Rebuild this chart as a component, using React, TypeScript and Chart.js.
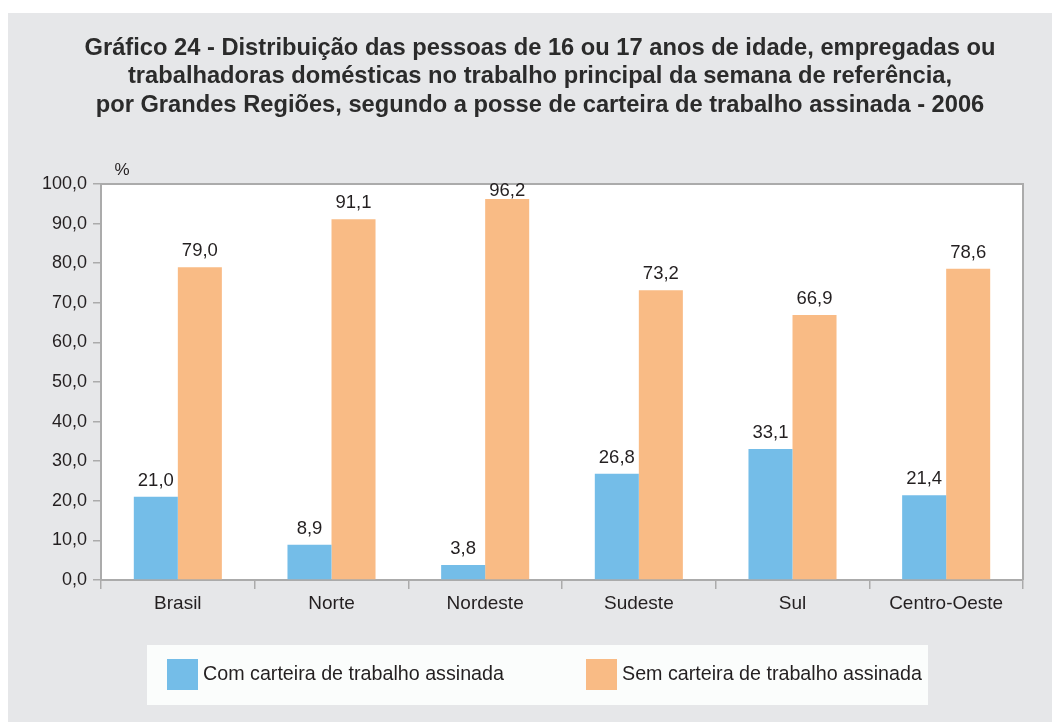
import React, { useEffect, useRef } from "react";
import { Chart, registerables } from "chart.js";

Chart.register(...registerables);

const categories = ["Brasil", "Norte", "Nordeste", "Sudeste", "Sul", "Centro-Oeste"];
const comCarteira = [21.0, 8.9, 3.8, 26.8, 33.1, 21.4];
const semCarteira = [79.0, 91.1, 96.2, 73.2, 66.9, 78.6];
const seriesNames = ["Com carteira de trabalho assinada", "Sem carteira de trabalho assinada"];
const titleLines = [
  "Gráfico 24 - Distribuição das pessoas de 16 ou 17 anos de idade, empregadas ou",
  "trabalhadoras domésticas no trabalho principal da semana de referência,",
  "por Grandes Regiões, segundo a posse de carteira de trabalho assinada - 2006",
];
const yMin = 0;
const yMax = 100;
const yStep = 10;
const yUnit = "%";

const FONT = "'Liberation Sans', Arial, Helvetica, sans-serif";
const TEXT = "#231f20";
const GRAY_BG = "#e6e7e9";
const AXIS = "#ababab";
const BLUE = "#74bde8";
const ORANGE = "#f9bb85";

const fmt = (v: number) => v.toFixed(1).replace(".", ",");

const decorPlugin = {
  id: "decor",
  beforeDraw(chart: any) {
    const { ctx, chartArea: a, width, height } = chart;
    ctx.save();
    ctx.fillStyle = GRAY_BG;
    ctx.fillRect(0, 0, width, height);
    ctx.fillStyle = "#ffffff";
    ctx.fillRect(a.left, a.top, a.right - a.left, a.bottom - a.top);
    ctx.restore();
  },
  afterDraw(chart: any) {
    const { ctx, chartArea: a, width } = chart;
    ctx.save();

    // title
    ctx.fillStyle = "#2b2b2b";
    ctx.font = `bold 23.7px ${FONT}`;
    ctx.textAlign = "center";
    ctx.textBaseline = "middle";
    titleLines.forEach((line, i) => {
      ctx.fillText(line, width / 2 + 10, 35 + i * 28.5);
    });

    // frame top/right
    ctx.strokeStyle = AXIS;
    ctx.lineWidth = 2;
    ctx.beginPath();
    ctx.moveTo(a.left, a.top);
    ctx.lineTo(a.right, a.top);
    ctx.lineTo(a.right, a.bottom);
    ctx.stroke();

    // value labels
    ctx.fillStyle = TEXT;
    ctx.font = `18.5px ${FONT}`;
    ctx.textAlign = "center";
    ctx.textBaseline = "middle";
    chart.data.datasets.forEach((ds: any, di: number) => {
      const meta = chart.getDatasetMeta(di);
      meta.data.forEach((bar: any, i: number) => {
        const y = Math.max(bar.y - 16, a.top + 7);
        ctx.fillText(fmt(ds.data[i]), bar.x, y);
      });
    });

    // unit label
    ctx.font = `17px ${FONT}`;
    ctx.fillText(yUnit, a.left + 21, a.top - 14);

    // legend
    const lx = a.left + 46;
    const ly = a.bottom + 65;
    const lw = 781;
    const lh = 60;
    ctx.fillStyle = "#fbfdfc";
    ctx.fillRect(lx, ly, lw, lh);
    const items = [
      { x: lx + 20, color: BLUE, text: seriesNames[0] },
      { x: lx + 439, color: ORANGE, text: seriesNames[1] },
    ];
    ctx.font = `19.7px ${FONT}`;
    ctx.textAlign = "left";
    items.forEach((it) => {
      ctx.fillStyle = it.color;
      ctx.fillRect(it.x, ly + 14, 31, 31);
      ctx.fillStyle = TEXT;
      ctx.fillText(it.text, it.x + 36, ly + 30);
    });
    ctx.restore();
  },
};

export default function App() {
  const ref = useRef<HTMLCanvasElement | null>(null);
  useEffect(() => {
    if (!ref.current) return;
    const chart = new Chart(ref.current, {
      type: "bar",
      data: {
        labels: categories,
        datasets: [
          {
            label: seriesNames[0],
            data: comCarteira,
            backgroundColor: BLUE,
            categoryPercentage: 0.573,
            barPercentage: 1,
          },
          {
            label: seriesNames[1],
            data: semCarteira,
            backgroundColor: ORANGE,
            categoryPercentage: 0.573,
            barPercentage: 1,
          },
        ],
      },
      options: {
        responsive: false,
        animation: false,
        layout: { padding: { left: 0, right: 29, top: 171, bottom: 0 } },
        plugins: {
          legend: { display: false },
          tooltip: { enabled: false },
          title: { display: false },
        },
        scales: {
          x: {
            grid: { drawOnChartArea: false, tickLength: 9, color: AXIS, lineWidth: 1.5, offset: true },
            border: { color: AXIS, width: 2 },
            ticks: { font: { family: FONT, size: 19 }, color: TEXT, padding: 3, maxRotation: 0, autoSkip: false },
            afterFit: (s: any) => {
              s.height = 142;
            },
          },
          y: {
            min: yMin,
            max: yMax,
            ticks: {
              stepSize: yStep,
              font: { family: FONT, size: 18 },
              color: TEXT,
              padding: 6,
              callback: (v: any) => fmt(Number(v)),
            },
            grid: { drawOnChartArea: false, tickLength: 8, color: AXIS, lineWidth: 1.5 },
            border: { color: AXIS, width: 2 },
            afterFit: (s: any) => {
              s.width = 93;
            },
          },
        },
      },
      plugins: [decorPlugin],
    });
    return () => chart.destroy();
  }, []);

  return (
    <div style={{ position: "absolute", left: 8, top: 13, width: 1044, height: 709, background: GRAY_BG }}>
      <canvas ref={ref} width={1044} height={709} style={{ display: "block" }} />
    </div>
  );
}
